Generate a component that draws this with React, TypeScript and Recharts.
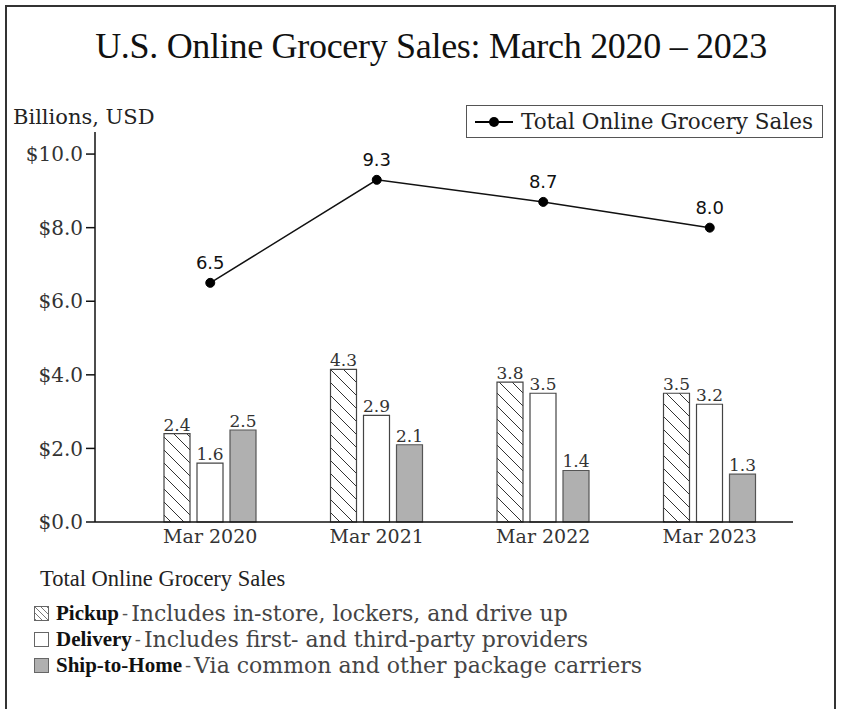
import React from 'react';
import { ComposedChart, Bar, Line, XAxis, YAxis, LabelList } from 'recharts';

const categories = ['Mar 2020', 'Mar 2021', 'Mar 2022', 'Mar 2023'];
const pickup = [2.4, 4.15, 3.8, 3.5];
const pickupLabels = ['2.4', '4.3', '3.8', '3.5'];
const delivery = [1.6, 2.9, 3.5, 3.2];
const shipToHome = [2.5, 2.1, 1.4, 1.3];
const totalSales = [6.5, 9.3, 8.7, 8.0];
const yTicks = [0, 2, 4, 6, 8, 10];

const data = categories.map((c, i) => ({
  cat: c,
  pickup: pickup[i],
  pickupLabel: pickupLabels[i],
  delivery: delivery[i],
  ship: shipToHome[i],
  total: totalSales[i],
}));

const SERIF = '"DejaVu Serif", serif';
const TITLE = '"Liberation Serif", serif';

const TopLegend = () => (
  <div style={{ position: 'absolute', left: 466, top: 105, border: '1px solid #555', width: 357, height: 33, display: 'flex', alignItems: 'center', background: '#fff', boxSizing: 'border-box' }}>
    <svg width={48} height={20} style={{ marginLeft: 6, flex: 'none' }}>
      <line x1={2} y1={10} x2={40} y2={10} stroke="#000" strokeWidth={2} />
      <circle cx={21} cy={10} r={5} fill="#000" />
    </svg>
    <span style={{ fontFamily: SERIF, fontSize: 21.5, color: '#222', whiteSpace: 'nowrap' }}>Total Online Grocery Sales</span>
  </div>
);

const legendRows = [
  { name: 'Pickup', desc: 'Includes in-store, lockers, and drive up', kind: 'hatch' },
  { name: 'Delivery', desc: 'Includes first- and third-party providers', kind: 'white' },
  { name: 'Ship-to-Home', desc: 'Via common and other package carriers', kind: 'gray' },
];

const Swatch = ({ kind }: { kind: string }) => (
  <svg width={15} height={15} style={{ marginRight: 7, flex: 'none' }}>
    <defs>
      <pattern id="hatchSmall" patternUnits="userSpaceOnUse" width={6} height={6}>
        <path d="M0,0 L6,6 M-3,3 L3,9 M3,-3 L9,3" stroke="#555" strokeWidth={0.8} />
      </pattern>
    </defs>
    <rect x={0.5} y={0.5} width={14} height={14}
      fill={kind === 'gray' ? '#b0b0b0' : kind === 'hatch' ? 'url(#hatchSmall)' : '#fff'}
      stroke="#666" strokeWidth={1} />
  </svg>
);

export default function App() {
  return (
    <div style={{ position: 'absolute', left: 0, top: 0, width: 841, height: 709, background: '#fff', overflow: 'hidden' }}>
      <div style={{ position: 'absolute', left: 5, top: 5, width: 831, height: 720, border: '2px solid #333', boxSizing: 'border-box' }} />
      <div style={{ position: 'absolute', left: 0, top: 25, width: 862, textAlign: 'center', fontFamily: TITLE, fontSize: 36, letterSpacing: -0.3, color: '#111', whiteSpace: 'nowrap' }}>
        U.S. Online Grocery Sales: March 2020 – 2023
      </div>
      <div style={{ position: 'absolute', left: 13, top: 105, fontFamily: SERIF, fontSize: 21, color: '#222', whiteSpace: 'nowrap' }}>
        Billions, USD
      </div>
      <div style={{ position: 'absolute', left: 0, top: 0 }}>
        <ComposedChart width={841} height={709} data={data}
          margin={{ top: 132, right: 48, bottom: 157, left: 0 }} barSize={26} barGap={7}>
          <defs>
            <pattern id="hatch" patternUnits="userSpaceOnUse" width={13} height={13}>
              <rect width={13} height={13} fill="#fff" />
              <path d="M0,0 L13,13 M-6.5,6.5 L6.5,19.5 M6.5,-6.5 L19.5,6.5" stroke="#333" strokeWidth={1} />
            </pattern>
          </defs>
          <XAxis dataKey="cat" height={30} tickLine={false} padding={{ left: 32, right: 0 }}
            axisLine={{ stroke: '#111', strokeWidth: 1.5 }}
            tick={{ fontFamily: SERIF, fontSize: 19, fill: '#333' }} />
          <YAxis width={95} domain={[0, 10.6]} ticks={yTicks} tickSize={9} tickMargin={3}
            tickFormatter={(v: number) => `$${v.toFixed(1)}`}
            axisLine={{ stroke: '#111', strokeWidth: 1.5 }} tickLine={{ stroke: '#111', strokeWidth: 1.5 }}
            tick={{ fontFamily: SERIF, fontSize: 20, fill: '#333' }} />
          <Bar dataKey="pickup" fill="url(#hatch)" stroke="#444" strokeWidth={1.2} isAnimationActive={false}>
            <LabelList dataKey="pickupLabel" position="top" offset={3} style={{ fontFamily: SERIF, fontSize: 17, fill: '#333' }} />
          </Bar>
          <Bar dataKey="delivery" fill="#fff" stroke="#444" strokeWidth={1.2} isAnimationActive={false}>
            <LabelList dataKey="delivery" position="top" offset={3} formatter={(v: number) => v.toFixed(1)} style={{ fontFamily: SERIF, fontSize: 17, fill: '#333' }} />
          </Bar>
          <Bar dataKey="ship" fill="#b0b0b0" stroke="#555" strokeWidth={1.2} isAnimationActive={false}>
            <LabelList dataKey="ship" position="top" offset={3} formatter={(v: number) => v.toFixed(1)} style={{ fontFamily: SERIF, fontSize: 17, fill: '#333' }} />
          </Bar>
          <Line dataKey="total" type="linear" stroke="#111" strokeWidth={1.5} isAnimationActive={false}
            dot={{ r: 4.5, fill: '#000', stroke: '#000', strokeWidth: 1 }}>
            <LabelList dataKey="total" position="top" offset={14} formatter={(v: number) => v.toFixed(1)}
              style={{ fontFamily: '"DejaVu Sans", sans-serif', fontSize: 18, fill: '#111' }} />
          </Line>
        </ComposedChart>
      </div>
      <TopLegend />
      <div style={{ position: 'absolute', left: 40, top: 566, fontFamily: TITLE, fontSize: 22.5, color: '#222', whiteSpace: 'nowrap' }}>
        Total Online Grocery Sales
      </div>
      {legendRows.map((r, i) => (
        <div key={r.name} style={{ position: 'absolute', left: 34, top: 601 + i * 26, display: 'flex', alignItems: 'center', whiteSpace: 'nowrap', height: 24 }}>
          <Swatch kind={r.kind} />
          <span style={{ fontFamily: TITLE, fontSize: 21, fontWeight: 'bold', color: '#111' }}>{r.name}</span>
          <span style={{ fontFamily: SERIF, fontSize: 18, color: '#555', marginLeft: 3 }}>-</span>
          <span style={{ fontFamily: SERIF, fontSize: 22, color: '#444', marginLeft: 3 }}>{r.desc}</span>
        </div>
      ))}
    </div>
  );
}
